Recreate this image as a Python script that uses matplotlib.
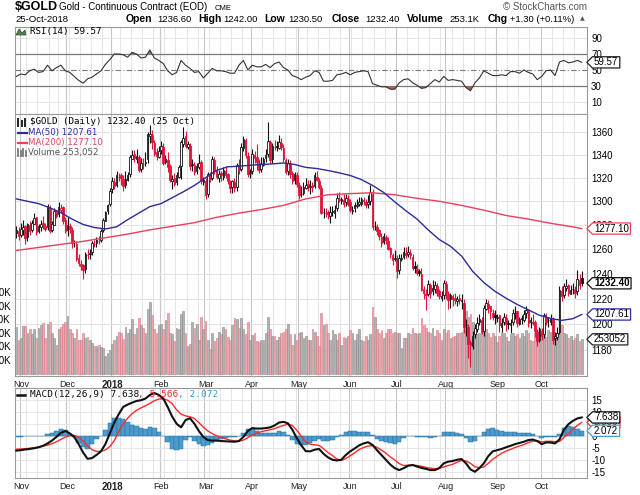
import numpy as np
import pandas as pd
import matplotlib
matplotlib.use("Agg")
import matplotlib.pyplot as plt
from matplotlib.transforms import blended_transform_factory as blend
from matplotlib.ticker import NullLocator
from matplotlib.path import Path
from matplotlib.lines import Line2D
from matplotlib.patches import Polygon

# ---------------- data ----------------
start_date, end_date = "2017-10-30", "2018-10-25"
holidays = ["2017-11-23", "2017-12-25", "2018-01-01", "2018-03-30"]

closes = [1276, 1271,
    1277, 1278, 1269, 1281, 1275, 1282, 1286, 1274, 1279, 1281, 1280, 1277, 1296, 1275, 1281, 1292, 1288, 1295, 1294, 1283, 1275,
    1280, 1277, 1265, 1266, 1252, 1249, 1246, 1243, 1256, 1255, 1257, 1265, 1264, 1268, 1267, 1275, 1284, 1291, 1297, 1309,
    1317, 1313, 1322, 1321, 1320, 1313, 1319, 1322, 1338, 1340, 1337, 1339, 1327, 1333, 1332, 1334, 1358, 1358, 1351, 1341, 1339, 1343,
    1348, 1333, 1336, 1329, 1318, 1319, 1315, 1322, 1329, 1351, 1355, 1348, 1349, 1330, 1332, 1325, 1330, 1333, 1317, 1318,
    1305, 1323, 1319, 1336, 1326, 1321, 1323, 1322, 1327, 1322, 1317, 1311, 1317, 1311, 1331, 1327, 1347, 1354, 1340, 1323, 1325,
    1341, 1337, 1334, 1327, 1332, 1336, 1340, 1352, 1335, 1348, 1347, 1347, 1351, 1347, 1336, 1325, 1333, 1323, 1317, 1323, 1315,
    1305, 1306, 1312, 1314, 1313, 1313, 1312, 1322, 1318, 1312, 1290, 1291, 1290, 1289, 1291, 1291, 1293, 1303, 1301, 1302, 1298, 1303, 1298,
    1293, 1293, 1297, 1297, 1299, 1302, 1300, 1297, 1299, 1308, 1278, 1279, 1275, 1271, 1265, 1271, 1268, 1260, 1256, 1251, 1253,
    1242, 1253, 1253, 1258, 1255, 1258, 1255, 1245, 1245, 1241, 1241, 1227, 1225, 1223, 1232, 1225, 1229, 1231, 1225, 1222, 1222, 1233,
    1225, 1219, 1223, 1220, 1219, 1220, 1219, 1219, 1198, 1199, 1185, 1184, 1191, 1197, 1201, 1204, 1194, 1213, 1217, 1213, 1210, 1206, 1206,
    1206, 1199, 1201, 1206, 1200, 1200, 1201, 1209, 1209, 1201, 1204, 1204, 1208, 1211, 1201, 1203, 1201, 1195, 1187, 1196,
    1191, 1207, 1202, 1203, 1205, 1188, 1191, 1193, 1227, 1222, 1230, 1230, 1225, 1227, 1228, 1225, 1236, 1231, 1232.4]

opens = [1273, 1275,
    1272, 1276, 1279, 1270, 1280, 1276, 1281, 1287, 1275, 1278, 1282, 1279, 1278, 1294, 1276, 1280, 1291, 1289, 1293, 1295, 1284,
    1276, 1279, 1276, 1266, 1264, 1253, 1248, 1247, 1244, 1255, 1256, 1258, 1264, 1265, 1267, 1268, 1276, 1283, 1292, 1298,
    1310, 1316, 1314, 1321, 1322, 1319, 1314, 1318, 1323, 1336, 1341, 1336, 1338, 1328, 1332, 1333, 1336, 1356, 1357, 1350, 1342, 1338,
    1344, 1347, 1334, 1335, 1330, 1317, 1320, 1316, 1321, 1330, 1349, 1356, 1347, 1348, 1331, 1331, 1326, 1329, 1334, 1316,
    1317, 1306, 1322, 1320, 1335, 1327, 1320, 1324, 1321, 1326, 1323, 1316, 1312, 1316, 1312, 1330, 1328, 1346, 1353, 1339, 1324,
    1326, 1340, 1338, 1333, 1328, 1331, 1337, 1341, 1351, 1336, 1347, 1348, 1346, 1350, 1346, 1335, 1326, 1332, 1324, 1318, 1322,
    1314, 1306, 1307, 1311, 1315, 1312, 1314, 1313, 1321, 1317, 1311, 1291, 1290, 1291, 1288, 1292, 1290, 1294, 1302, 1300, 1301, 1299, 1302,
    1299, 1292, 1294, 1296, 1298, 1298, 1301, 1299, 1298, 1300, 1306, 1279, 1278, 1276, 1270, 1266, 1270, 1267, 1261, 1255, 1252,
    1252, 1243, 1252, 1254, 1257, 1256, 1257, 1254, 1246, 1244, 1242, 1240, 1228, 1224, 1224, 1231, 1226, 1228, 1230, 1226, 1221, 1223,
    1232, 1224, 1220, 1222, 1221, 1218, 1221, 1218, 1217, 1199, 1198, 1186, 1183, 1192, 1196, 1202, 1203, 1195, 1212, 1216, 1214, 1209, 1207,
    1205, 1207, 1198, 1202, 1205, 1201, 1199, 1202, 1208, 1210, 1200, 1205, 1203, 1209, 1210, 1202, 1202, 1202, 1194, 1188,
    1195, 1192, 1206, 1203, 1202, 1204, 1189, 1190, 1194, 1226, 1223, 1229, 1231, 1224, 1228, 1227, 1226, 1235, 1236.6]

highs = [1279, 1278,
    1282, 1284, 1280, 1282, 1283, 1284, 1290, 1287, 1281, 1284, 1288, 1282, 1298, 1297, 1283, 1294, 1293, 1299, 1298, 1296, 1287,
    1287, 1282, 1278, 1268, 1267, 1256, 1251, 1248, 1258, 1260, 1260, 1267, 1268, 1270, 1271, 1277, 1286, 1292, 1298, 1311,
    1321, 1320, 1326, 1324, 1324, 1322, 1326, 1325, 1340, 1344, 1344, 1345, 1340, 1337, 1337, 1342, 1360, 1366, 1362, 1353, 1346, 1348,
    1352, 1350, 1340, 1342, 1332, 1322, 1324, 1325, 1331, 1353, 1364, 1361, 1352, 1350, 1336, 1334, 1333, 1341, 1335, 1321,
    1320, 1325, 1325, 1339, 1338, 1330, 1327, 1326, 1329, 1330, 1324, 1318, 1318, 1320, 1333, 1336, 1350, 1356, 1355, 1342, 1328,
    1345, 1343, 1349, 1336, 1338, 1338, 1345, 1369, 1353, 1350, 1353, 1352, 1357, 1355, 1349, 1337, 1336, 1335, 1326, 1325, 1325,
    1316, 1313, 1316, 1320, 1318, 1318, 1316, 1325, 1326, 1320, 1314, 1294, 1294, 1293, 1296, 1296, 1297, 1307, 1308, 1304, 1306, 1306, 1305,
    1302, 1296, 1299, 1302, 1304, 1304, 1304, 1302, 1305, 1314, 1310, 1283, 1281, 1277, 1273, 1273, 1272, 1270, 1262, 1257, 1259,
    1255, 1256, 1256, 1262, 1262, 1263, 1260, 1256, 1250, 1248, 1244, 1245, 1230, 1228, 1235, 1233, 1235, 1234, 1233, 1228, 1226, 1235,
    1234, 1226, 1225, 1224, 1225, 1222, 1224, 1224, 1220, 1204, 1200, 1188, 1195, 1200, 1206, 1208, 1206, 1215, 1220, 1219, 1214, 1212, 1211,
    1208, 1207, 1205, 1209, 1208, 1203, 1204, 1212, 1214, 1210, 1206, 1207, 1211, 1214, 1212, 1206, 1208, 1203, 1196, 1198,
    1197, 1209, 1209, 1206, 1208, 1206, 1194, 1198, 1230, 1230, 1233, 1236, 1232, 1231, 1233, 1230, 1243, 1240, 1242.0]

lows = [1269, 1268,
    1270, 1272, 1264, 1267, 1272, 1274, 1281, 1272, 1273, 1275, 1277, 1275, 1276, 1273, 1274, 1280, 1286, 1287, 1290, 1281, 1273,
    1271, 1273, 1261, 1262, 1250, 1246, 1243, 1236, 1241, 1252, 1252, 1255, 1262, 1262, 1264, 1266, 1274, 1283, 1289, 1296,
    1307, 1310, 1312, 1317, 1314, 1309, 1311, 1317, 1321, 1336, 1334, 1333, 1325, 1325, 1328, 1330, 1333, 1350, 1345, 1339, 1335, 1337,
    1341, 1331, 1332, 1325, 1316, 1310, 1313, 1314, 1320, 1319, 1347, 1346, 1345, 1327, 1326, 1322, 1323, 1328, 1315, 1314,
    1302, 1304, 1316, 1318, 1323, 1319, 1316, 1317, 1318, 1320, 1315, 1307, 1307, 1308, 1309, 1323, 1326, 1343, 1337, 1321, 1320,
    1323, 1333, 1327, 1324, 1325, 1330, 1334, 1338, 1333, 1333, 1344, 1343, 1345, 1344, 1334, 1323, 1322, 1320, 1315, 1315, 1312,
    1302, 1304, 1305, 1310, 1309, 1306, 1308, 1311, 1317, 1310, 1289, 1286, 1287, 1285, 1282, 1288, 1286, 1292, 1299, 1298, 1295, 1296, 1296,
    1291, 1289, 1291, 1294, 1296, 1296, 1297, 1294, 1294, 1297, 1276, 1276, 1272, 1268, 1262, 1264, 1264, 1259, 1253, 1247, 1250,
    1237, 1240, 1250, 1252, 1253, 1254, 1252, 1243, 1241, 1239, 1238, 1226, 1220, 1211, 1222, 1221, 1223, 1225, 1222, 1220, 1218, 1220,
    1220, 1212, 1213, 1214, 1216, 1214, 1216, 1212, 1193, 1191, 1174, 1167, 1181, 1189, 1194, 1199, 1192, 1191, 1211, 1209, 1204, 1203, 1200,
    1202, 1194, 1194, 1199, 1195, 1196, 1193, 1199, 1204, 1198, 1199, 1200, 1202, 1205, 1198, 1197, 1199, 1190, 1183, 1186,
    1188, 1189, 1199, 1198, 1199, 1185, 1184, 1188, 1192, 1218, 1221, 1226, 1222, 1224, 1224, 1221, 1223, 1228, 1230.5]

volumes_k = [347, 250,
    262, 355, 350, 300, 332, 290, 330, 262, 340, 358, 372, 262, 370, 380, 300, 262, 210, 330, 345, 365, 380,
    428, 330, 300, 262, 330, 250, 245, 300, 265, 270, 245, 225, 205, 200, 210, 195, 190, 130, 150, 175,
    215, 250, 280, 310, 300, 255, 345, 300, 330, 405, 290, 335, 410, 360, 340, 300, 480, 530, 430, 330, 300, 360,
    370, 330, 395, 450, 300, 290, 240, 340, 330, 440, 460, 300, 200, 215, 385, 340, 370, 250, 420, 330,
    390, 250, 180, 300, 240, 265, 310, 290, 345, 330, 270, 250, 360, 410, 400, 340, 410, 330, 290, 380, 250,
    285, 300, 240, 230, 250, 250, 300, 420, 330, 280, 275, 250, 270, 300, 310, 330, 370, 290, 210, 290, 250,
    300, 310, 260, 275, 250, 250, 330, 310, 280, 200, 450, 360, 370, 300, 250, 320, 290, 250, 300, 210, 270, 260, 280,
    320, 300, 250, 290, 330, 250, 240, 280, 250, 290, 490, 420, 330, 300, 320, 260, 300, 330, 330, 300, 310,
    300, 300, 190, 260, 260, 300, 290, 340, 300, 290, 300, 410, 360, 340, 310, 300, 340, 280, 320, 300, 250, 330,
    300, 320, 260, 270, 280, 300, 300, 310, 410, 460, 420, 440, 380, 300, 290, 300, 340, 370, 330, 300, 270, 300, 280,
    230, 280, 310, 300, 270, 240, 290, 300, 280, 290, 260, 300, 280, 320, 300, 250, 240, 300, 320, 340,
    310, 340, 270, 320, 310, 250, 280, 300, 420, 360, 300, 290, 260, 280, 250, 260, 290, 240, 253.052]

# moving averages read every 5 / 10 sessions (plus the last session)
ma50 = [1302, 1300, 1298, 1294.5, 1290.5, 1285, 1280.5, 1278, 1276.8, 1278.5, 1284.5, 1290, 1295.5, 1298, 1303, 1308,
        1313.5, 1320, 1326.5, 1329.5, 1330, 1330.8, 1331.5, 1332, 1332.8, 1331.5, 1329, 1328, 1326.3, 1324.3, 1322,
        1318.5, 1313.5, 1307.5, 1299.5, 1292, 1285, 1276, 1268, 1262.5, 1254.5, 1242, 1233, 1226, 1220.5, 1215.5,
        1211.3, 1207, 1204.5, 1203, 1204.3, 1207.61]
ma200 = [1259, 1261.5, 1264, 1266.5, 1269.5, 1272.5, 1276, 1279, 1282, 1286.5, 1290, 1293, 1296.5, 1302, 1305.5,
         1306.5, 1307.2, 1305.5, 1302.5, 1300, 1296.5, 1292.5, 1288, 1285, 1281.5, 1278.5, 1277.1]

# indicators read every 2 sessions
rsi = [42, 45, 44, 49, 51, 47, 48, 56, 49, 53,
       56, 49, 47, 42, 37, 33.5, 39, 41, 45, 49,
       57, 63, 70, 70, 69, 66, 72, 70, 65, 66,
       75, 65, 62, 58, 49, 44, 47, 62, 56, 52,
       47, 48, 40, 46, 52, 49, 49, 48, 46, 46,
       56, 62, 50, 56, 54, 54, 57, 53, 58, 60,
       53, 50, 43, 41, 38, 41, 43, 49, 47, 36,
       36, 37, 44, 45, 47, 44, 47, 48, 49, 48,
       33, 31, 29, 29, 26, 26, 34, 38, 39, 34,
       31, 27, 28, 33, 38, 35, 42, 37, 38, 37,
       36, 28, 24, 34, 40, 49, 46, 43, 43, 44,
       43, 48, 48, 46, 50, 47, 45, 38, 42, 49,
       50, 43, 60, 62, 59, 60, 62, 59.57]

macd = [-6.2, -6.0, -5.7, -5.5, -5.2, -4.8, -4.2, -3.2, -2.0, -0.5,
        1.2, 2.0, 1.0, -0.5, -3.5, -7.0, -9.6, -9.3, -8.0, -6.5,
        -3.5, 1.0, 5.5, 9.0, 12.0, 13.0, 13.8, 14.5, 14.8, 15.5,
        17.0, 17.8, 17.0, 15.5, 12.0, 8.0, 5.0, 3.5, 6.5, 7.3,
        5.0, 2.0, -0.5, -1.8, -2.0, -2.0, -2.2, -2.3, -2.4, -2.5,
        -2.2, -0.5, 2.0, 3.2, 3.0, 3.0, 3.2, 3.5, 4.3, 5.5,
        5.8, 5.2, 2.5, -1.0, -4.0, -6.4, -6.5, -5.8, -5.5, -7.5,
        -9.0, -10.0, -10.3, -10.0, -8.0, -6.5, -5.3, -4.0, -3.2, -2.7,
        -3.8, -6.0, -8.0, -10.0, -12.0, -13.5, -14.3, -13.5, -12.5, -12.2,
        -12.8, -13.4, -13.8, -14.3, -14.3, -13.5, -11.5, -10.8, -10.5, -10.0,
        -9.7, -11.5, -14.0, -15.0, -13.5, -11.5, -8.5, -6.5, -6.0, -5.5,
        -4.8, -4.2, -3.5, -3.0, -2.5, -1.8, -1.6, -2.2, -3.5, -2.8,
        -2.8, -3.2, -1.5, 2.5, 4.8, 6.2, 7.2, 7.638]
signal = [-5.6, -5.5, -5.4, -5.2, -5.0, -4.7, -4.3, -3.9, -3.3, -2.5,
          -1.5, -0.6, 0.1, 0.2, -0.6, -2.2, -4.2, -5.8, -6.5, -6.5,
          -5.9, -4.5, -2.0, 1.8, 5.0, 7.3, 9.2, 10.6, 11.6, 12.5,
          13.5, 14.6, 15.3, 15.4, 14.8, 13.4, 10.8, 9.0, 8.3, 7.9,
          7.2, 5.5, 3.6, 2.0, 0.9, 0.0, -0.7, -1.3, -1.8, -2.1,
          -2.3, -1.8, -0.8, 0.3, 1.1, 1.7, 2.1, 2.5, 3.0, 3.7,
          4.3, 4.8, 4.3, 2.3, -0.1, -2.6, -3.5, -3.8, -4.0, -5.4,
          -7.0, -8.2, -9.7, -10.3, -9.5, -8.3, -7.1, -5.7, -4.9, -4.3,
          -4.1, -4.8, -6.0, -7.2, -8.8, -10.1, -11.6, -12.4, -12.3, -12.2,
          -12.4, -12.7, -13.2, -13.5, -13.7, -13.6, -13.0, -12.4, -11.9, -11.0,
          -10.3, -10.5, -11.5, -12.9, -13.3, -13.0, -11.5, -9.8, -8.5, -7.3,
          -6.4, -5.7, -4.9, -4.3, -3.7, -2.8, -2.3, -2.0, -2.6, -2.3,
          -2.3, -2.5, -2.4, -0.7, 0.9, 2.6, 4.3, 5.566]
hist = [-0.6, -0.5, -0.3, -0.3, -0.2, -0.1, 0.1, 0.7, 1.3, 2.0,
        2.7, 2.6, 0.9, -0.7, -2.9, -4.8, -5.4, -3.5, -1.5, 0.0,
        2.4, 5.5, 7.5, 7.2, 7.0, 5.7, 4.6, 3.9, 3.2, 3.0,
        3.5, 3.2, 1.7, 0.1, -2.8, -5.4, -5.8, -5.5, -1.8, -0.6,
        -2.2, -3.5, -4.1, -3.8, -2.9, -2.0, -1.5, -1.0, -0.6, -0.4,
        0.1, 1.3, 2.8, 2.9, 1.9, 1.3, 1.1, 1.0, 1.3, 1.8,
        1.5, 0.4, -1.8, -3.3, -3.9, -3.8, -3.0, -2.0, -1.5, -2.1,
        -2.0, -1.8, -0.6, 0.3, 1.5, 1.8, 1.8, 1.7, 1.7, 1.6,
        0.3, -1.2, -2.0, -2.8, -3.2, -3.4, -2.7, -1.1, -0.2, 0.0,
        -0.4, -0.7, -0.6, -0.8, -0.6, 0.1, 1.5, 1.6, 1.4, 1.0,
        0.6, -1.0, -2.5, -2.1, -0.2, 1.5, 3.0, 3.3, 2.5, 1.8,
        1.6, 1.5, 1.4, 1.3, 1.2, 1.0, 0.7, -0.2, -0.9, -0.5,
        -0.5, -0.7, 0.9, 3.2, 3.9, 3.6, 2.9, 2.072]

price_ticks = [1180, 1200, 1220, 1240, 1260, 1280, 1300, 1320, 1340, 1360]
rsi_ticks = [10, 30, 50, 70, 90]
macd_ticks = [-15, -10, -5, 0, 5, 10, 15]
vol_ticks_k = [100, 200, 300, 400, 500, 600]

# ---------------- styles ----------------
RED = "#e0153c"
BLACK = "#111111"
BLUE_MA = "#2c2c9c"
RED_MA = "#e8405e"
GRID = "#e2e2e2"
GRID_M = "#c6c6c6"
SPINE = "#9a9a9a"
SANS = ["Liberation Sans", "DejaVu Sans"]
MONO = "DejaVu Sans Mono"

W, H = 640, 495
fig = plt.figure(figsize=(W / 100, H / 100), dpi=100)
fig.patch.set_facecolor("white")


def rect(x0, y0, x1, y1):
    return [x0 / W, 1 - y1 / H, (x1 - x0) / W, (y1 - y0) / H]


def ftext(x, y, s, **kw):
    kw.setdefault("va", "center")
    return fig.text(x / W, 1 - y / H, s, **kw)


L, R = 15, 587
XL = (-0.6, 256.36)

dates = pd.bdate_range(start_date, end_date)
dates = dates[~dates.isin(pd.to_datetime(holidays))]
n = len(dates)
xi = np.arange(n)

month_idx = [i for i in range(1, n) if dates[i].month != dates[i - 1].month]
month_lbl = ["2018" if dates[i].month == 1 else dates[i].strftime("%b") for i in month_idx]
wk = dates.isocalendar().week.values
week_idx = [i for i in range(1, n) if wk[i] != wk[i - 1]]


def vgrid(ax):
    for i in week_idx:
        if i not in month_idx:
            ax.axvline(i - 0.5, color=GRID, lw=0.6, zorder=0)
    for i in month_idx:
        ax.axvline(i - 0.5, color=GRID_M, lw=0.8, zorder=0)


def style_frame(ax):
    for s in ax.spines.values():
        s.set_color(SPINE)
        s.set_linewidth(0.8)


def tagbox(x0, y0, width, height, mutation_size):
    pad = 0.16 * mutation_size
    x0 -= pad
    x1 = x0 + width + 2 * pad
    y0 -= pad * 0.4
    y1 = y0 + height + 0.8 * pad
    d = (y1 - y0) / 2
    return Path([(x0, y0), (x1, y0), (x1, y1), (x0, y1), (x0 - d, y0 + d), (x0, y0)],
                [Path.MOVETO, Path.LINETO, Path.LINETO, Path.LINETO, Path.LINETO, Path.CLOSEPOLY])


def tag(ax, yval, s, ec, bold=False, z=10):
    ax.text(1.0 + 7 / (R - L), yval, s, transform=blend(ax.transAxes, ax.transData),
            ha="left", va="center", fontsize=7, family=SANS,
            fontweight="bold" if bold else "normal", color="black", clip_on=False, zorder=z,
            bbox=dict(boxstyle=tagbox, fc="white", ec=ec, lw=0.9))


def month_labels(ax):
    ax.set_xticks(month_idx)
    ax.set_xticklabels(month_lbl, fontsize=6.5, family=SANS, color="#222222")
    for t in ax.get_xticklabels():
        if t.get_text() == "2018":
            t.set_fontweight("bold")
            t.set_fontsize(7)
    ax.tick_params(axis="x", length=0, pad=3)


# ---------------- RSI panel ----------------
ax_r = fig.add_axes(rect(L, 27, R, 114))
ax_r.set_xlim(*XL)
ax_r.set_ylim(-5, 103.75)
vgrid(ax_r)
for v in (10, 90):
    ax_r.axhline(v, color=GRID, lw=0.6, zorder=0)
ax_r.axhline(70, color="#7a7a7a", lw=0.9, zorder=1)
ax_r.axhline(30, color="#7a7a7a", lw=0.9, zorder=1)
ax_r.axhline(50, color="#7a7a7a", lw=0.8, ls=(0, (5, 2, 1, 2)), zorder=1)
rx = xi[::2]
ra = np.array(rsi, dtype=float)
ax_r.fill_between(rx, 70, ra, where=ra > 70, interpolate=True, color="#6f8f6f", lw=0, zorder=2)
ax_r.fill_between(rx, 30, ra, where=ra < 30, interpolate=True, color="#a8625a", lw=0, zorder=2)
ax_r.plot(rx, ra, color="#333333", lw=0.8, zorder=3)
ax_r.set_xticks([])
ax_r.yaxis.tick_right()
ax_r.set_yticks(rsi_ticks)
ax_r.set_yticklabels([str(t) for t in rsi_ticks], fontsize=7, family=SANS)
ax_r.tick_params(axis="y", length=0, pad=3)
style_frame(ax_r)
tag(ax_r, rsi[-1], f"{rsi[-1]:.2f}", "#222222")

# ---------------- price panel ----------------
ax_g = fig.add_axes(rect(L, 114, R, 376), label="grid")
ax_g.set_yscale("log")
ax_g.set_ylim(1160.2, 1376)
ax_g.set_xlim(*XL)
vgrid(ax_g)
for p in price_ticks:
    ax_g.axhline(p, color=GRID, lw=0.7, zorder=0)
ax_g.yaxis.tick_right()
ax_g.set_yticks(price_ticks)
ax_g.set_yticklabels([str(p) for p in price_ticks], fontsize=7, family=SANS)
ax_g.yaxis.set_minor_locator(NullLocator())
ax_g.tick_params(axis="y", length=0, pad=3)
month_labels(ax_g)
style_frame(ax_g)

ax_v = fig.add_axes(rect(L, 114, R, 376), label="volume", facecolor="none")
ax_v.set_xlim(*XL)
ax_v.set_ylim(-18.5, 1922)
c_arr = np.array(closes, dtype=float)
o_arr = np.array(opens, dtype=float)
prev = np.concatenate([[o_arr[0]], c_arr[:-1]])
down = c_arr < prev
vface = np.where(down, "#eda7ae", "#b3b3b3")
vedge = np.where(down, "#d77882", "#8a8a8a")
ax_v.bar(xi, volumes_k, width=0.8, color=vface, edgecolor=vedge, linewidth=0.4, zorder=2)
ax_v.set_xticks([])
ax_v.set_yticks(vol_ticks_k)
ax_v.set_yticklabels([f"{v}K" for v in vol_ticks_k], fontsize=7, family=SANS)
ax_v.tick_params(axis="y", length=0, pad=3)
for s in ax_v.spines.values():
    s.set_visible(False)
tag(ax_v, volumes_k[-1], f"{int(round(volumes_k[-1] * 1000))}", "#222222", z=11)

ax_p = fig.add_axes(rect(L, 114, R, 376), label="candles", facecolor="none")
ax_p.set_yscale("log")
ax_p.set_ylim(1160.2, 1376)
ax_p.set_xlim(*XL)
col = np.where(down, RED, BLACK)
face = np.where(c_arr > o_arr, "white", col)
ax_p.vlines(xi, lows, highs, colors=col, lw=0.8, zorder=3)
ax_p.bar(xi, np.abs(c_arr - o_arr), bottom=np.minimum(o_arr, c_arr), width=0.72,
         color=face, edgecolor=col, linewidth=0.6, zorder=4)
ma50_x = list(xi[::5]) + [xi[-1]]
ma200_x = list(xi[::10]) + [xi[-1]]
ax_p.plot(ma200_x, ma200, color=RED_MA, lw=1.0, zorder=5)
ax_p.plot(ma50_x, ma50, color=BLUE_MA, lw=1.0, zorder=5)
ax_p.set_xticks([])
ax_p.set_yticks([])
ax_p.yaxis.set_minor_locator(NullLocator())
for s in ax_p.spines.values():
    s.set_visible(False)
tag(ax_p, ma200[-1], f"{ma200[-1]:.2f}", RED_MA)
tag(ax_p, closes[-1], f"{closes[-1]:.2f}", "#111111", bold=True)
tag(ax_p, ma50[-1], f"{ma50[-1]:.2f}", BLUE_MA)

# ---------------- MACD panel ----------------
ax_m = fig.add_axes(rect(L, 388, R, 478))
ax_m.set_xlim(*XL)
ax_m.set_ylim(-17.6, 19.9)
vgrid(ax_m)
for v in macd_ticks:
    ax_m.axhline(v, color=GRID, lw=0.6, zorder=0)
mx = xi[::2]
ax_m.bar(mx, hist, width=2.0, color="#4a9ccf", edgecolor="#2a6f9c", linewidth=0.35, zorder=2)
ax_m.plot(mx, signal, color="#ff2a2a", lw=1.0, zorder=3)
ax_m.plot(mx, macd, color="#111111", lw=1.5, zorder=4)
ax_m.yaxis.tick_right()
ax_m.set_yticks(macd_ticks)
ax_m.set_yticklabels([str(t) for t in macd_ticks], fontsize=7, family=SANS)
ax_m.tick_params(axis="y", length=0, pad=3)
month_labels(ax_m)
style_frame(ax_m)
tag(ax_m, signal[-1], f"{signal[-1]:.3f}", "#ff2a2a", z=10)
tag(ax_m, hist[-1], f"{hist[-1]:.3f}", "#4a9ccf", z=11)
tag(ax_m, macd[-1], f"{macd[-1]:.3f}", "#111111", z=12)

# ---------------- header texts ----------------
ftext(15, 7, "$GOLD", fontsize=9, fontweight="bold", family=SANS)
ftext(59, 7.5, "Gold - Continuous Contract (EOD)", fontsize=7, family=SANS)
ftext(215, 8, "CME", fontsize=5.5, family=SANS)
ftext(587, 6.5, "\u00a9 StockCharts.com", fontsize=7, family=SANS, color="#555555", ha="right")
ftext(15, 19, "25-Oct-2018", fontsize=6.8, family=SANS)
hdr = [(126, "Open", True), (157, "1236.60", False), (198, "High", True), (223, "1242.00", False),
       (264, "Low", True), (288, "1230.50", False), (332, "Close", True), (365, "1232.40", False),
       (407, "Volume", True), (449, "253.1K", False), (488, "Chg", True), (510, "+1.30 (+0.11%)", False)]
for hx, s, b in hdr:
    ftext(hx, 19, s, fontsize=7.5 if b else 6.8, fontweight="bold" if b else "normal", family=SANS)
ftext(580, 19, "\u25b2", fontsize=4.5, family="DejaVu Sans", color="#555555")

# panel legends
fig.add_artist(Polygon([[16 / W, 1 - 35 / H], [19 / W, 1 - 29 / H], [22 / W, 1 - 33 / H],
                        [25 / W, 1 - 30 / H], [26 / W, 1 - 35 / H]], closed=True,
                       transform=fig.transFigure, fc="#4f7f4f", ec="#2f4f2f", lw=0.5))
ftext(30, 31.5, "RSI(14) 59.57", fontsize=6.6, family=MONO)

for k, cx in enumerate((18, 21.5, 25)):
    top = 119 + (k % 2) * 2
    fig.add_artist(Line2D([cx / W, cx / W], [1 - 126 / H, 1 - top / H], color="#222222", lw=1.4,
                          transform=fig.transFigure))
ftext(30, 122, "$GOLD (Daily) 1232.40 (25 Oct)", fontsize=6.6, family=MONO)
fig.add_artist(Line2D([18 / W, 27 / W], [1 - 133 / H, 1 - 133 / H], color=BLUE_MA, lw=1.6,
                      transform=fig.transFigure))
ftext(28, 133, "MA(50) 1207.61", fontsize=6.2, family="DejaVu Sans", color=BLUE_MA)
fig.add_artist(Line2D([18 / W, 27 / W], [1 - 143 / H, 1 - 143 / H], color=RED_MA, lw=1.6,
                      transform=fig.transFigure))
ftext(28, 143, "MA(200) 1277.10", fontsize=6.2, family="DejaVu Sans", color=RED_MA)
for k, cx in enumerate((18, 20.5, 23, 25.5)):
    top = 149 + (k % 2) * 2
    fig.add_artist(Line2D([cx / W, cx / W], [1 - 156 / H, 1 - top / H], color="#777777", lw=1.3,
                          transform=fig.transFigure))
ftext(28, 152.5, "Volume 253,052", fontsize=6.2, family="DejaVu Sans", color="#555555")

fig.add_artist(Line2D([17 / W, 25 / W], [1 - 394.5 / H, 1 - 394.5 / H], color="#111111", lw=1.8,
                      transform=fig.transFigure))
ftext(30, 394.5, "MACD(12,26,9) 7.638", fontsize=6.8, family=MONO, color="#111111")
ftext(138, 394.5, ", 5.566", fontsize=6.8, family=MONO, color="#ff2a2a")
ftext(178, 394.5, ", 2.072", fontsize=6.8, family=MONO, color="#3a9ad9")

fig.savefig("out.png", dpi=100)
